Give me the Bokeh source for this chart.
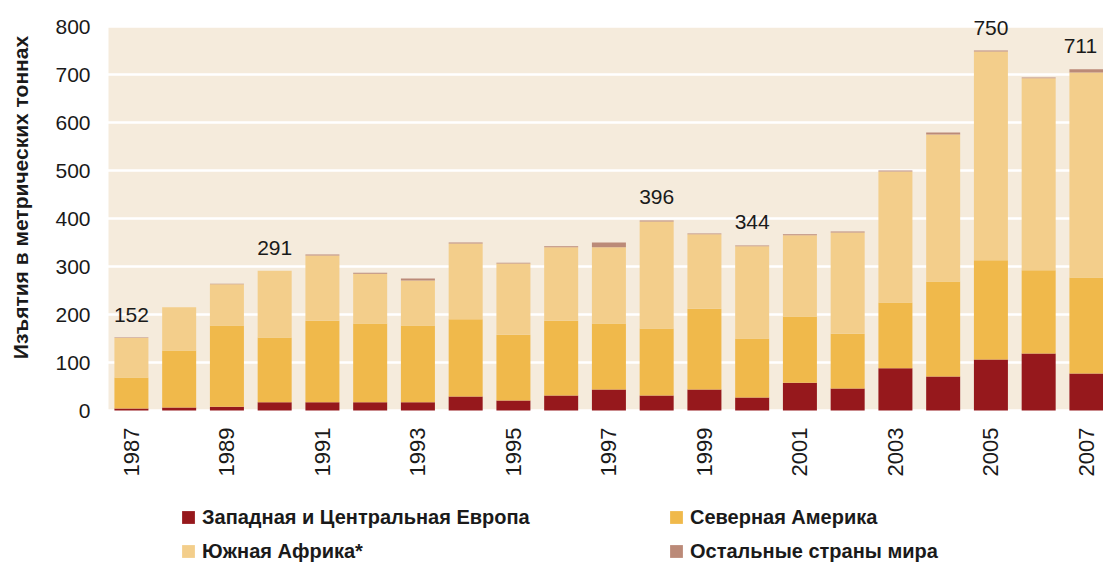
import math
from bokeh.plotting import figure
from bokeh.models import (ColumnDataSource, Range1d, FixedTicker, Legend, LegendItem,
                          LabelSet, Label, BoxAnnotation)
from bokeh.core.properties import value
from bokeh.embed import file_html
from bokeh.resources import INLINE

# ---------------- data ----------------
years = [1987, 1988, 1989, 1990, 1991, 1992, 1993, 1994, 1995, 1996, 1997,
         1998, 1999, 2000, 2001, 2002, 2003, 2004, 2005, 2006, 2007]
europe = [4, 6, 8, 17, 17, 17, 17, 29, 21, 31, 44, 31, 44, 27, 58, 46, 88, 71, 106, 119, 77]
namerica = [65, 119, 169, 135, 170, 164, 160, 161, 137, 156, 137, 140, 168, 123, 138, 114, 137, 198, 207, 173, 200]
safrica = [82, 90, 86, 139, 136, 104, 94, 158, 148, 153, 159, 223, 155, 192, 169, 211, 273, 306, 435, 400, 427]
rest = [1, 0, 1, 0, 2, 2, 4, 2, 2, 2, 10, 2, 2, 2, 2, 2, 2, 4, 2, 2, 7]

label_years = [1987, 1990, 1998, 2000, 2005, 2007]
label_values = [152, 291, 396, 344, 750, 711]

x_ticks = [1987, 1989, 1991, 1993, 1995, 1997, 1999, 2001, 2003, 2005, 2007]
x_tick_labels = ["1987", "1989", "1991", "1993", "1995", "1997", "1999", "2001", "2003", "2005", "2007"]
y_ticks = [0, 100, 200, 300, 400, 500, 600, 700, 800]
y_tick_labels = ["0", "100", "200", "300", "400", "500", "600", "700", "800"]
y_max = 800

series_keys = ["europe", "namerica", "safrica", "rest"]
series_names = ["Западная и Центральная Европа", "Северная Америка", "Южная Африка*", "Остальные страны мира"]
series_colors = ["#96181c", "#f0b94b", "#f3ce8b", "#bb8a78"]
y_title = "Изъятия в метрических тоннах"

# ---------------- layout constants (pixels) ----------------
W, H = 1103, 563
PLOT_LEFT_PX = 108        # left edge of the beige area
ZERO_PX = 410             # y pixel of value 0
PX_PER_YEAR = 47.75
PX_PER_UNIT = 0.48
X_LEFT = 1986.52          # data x at the beige area's left edge

x_start = X_LEFT - PLOT_LEFT_PX / PX_PER_YEAR
x_end = X_LEFT + (W - PLOT_LEFT_PX) / PX_PER_YEAR
y_start = -(H - ZERO_PX) / PX_PER_UNIT
y_end = ZERO_PX / PX_PER_UNIT

FONT = "Liberation Sans"
TXT = "#1a1a1a"
source = ColumnDataSource(dict(years=years, europe=europe, namerica=namerica,
                               safrica=safrica, rest=rest))

# the frame covers the whole canvas; axes are pinned inside it
p = figure(width=W, height=H, output_backend="svg", toolbar_location=None,
           x_range=Range1d(x_start, x_end), y_range=Range1d(y_start, y_end),
           min_border_left=0, min_border_right=0, min_border_top=0, min_border_bottom=0,
           background_fill_color="white", border_fill_color="white", outline_line_color=None)

# beige plotting area
p.add_layout(BoxAnnotation(left=X_LEFT, bottom=0, top=y_max, fill_color="#f5ebdc", fill_alpha=1,
                           line_color=None, level="image"))

renderers = p.vbar_stack(series_keys, x="years", width=0.712, source=source,
                         color=series_colors, line_color=None)

p.xgrid.visible = False
p.ygrid.ticker = FixedTicker(ticks=y_ticks)
p.ygrid.grid_line_color = "white"
p.ygrid.grid_line_width = 2.5

p.xaxis.fixed_location = 0
p.xaxis.ticker = FixedTicker(ticks=x_ticks)
p.xaxis.major_label_overrides = {t: l for t, l in zip(x_ticks, x_tick_labels)}
p.xaxis.major_label_orientation = math.pi / 2
p.xaxis.major_label_standoff = 17
p.xaxis.major_label_text_font_size = "22px"

p.yaxis.fixed_location = X_LEFT
p.yaxis.ticker = FixedTicker(ticks=y_ticks)
p.yaxis.major_label_overrides = {t: l for t, l in zip(y_ticks, y_tick_labels)}
p.yaxis.major_label_standoff = 18
p.yaxis.major_label_text_font_size = "21px"

for ax in (p.xaxis, p.yaxis):
    ax.axis_line_color = None
    ax.major_tick_line_color = None
    ax.minor_tick_line_color = None
    ax.major_tick_out = 0
    ax.major_tick_in = 0
    ax.minor_tick_out = 0
    ax.minor_tick_in = 0
    ax.major_label_text_font = FONT
    ax.major_label_text_color = TXT

# y-axis title
p.add_layout(Label(x=20, y=H - 197, x_units="screen", y_units="screen", text=y_title,
                   angle=math.pi / 2, text_align="center", text_baseline="middle",
                   text_font=FONT, text_font_size="21px", text_font_style="bold",
                   text_color=TXT))

# value labels above selected bars (the last one nudged left to stay inside the page)
lab_dx = [-6 if yr == years[-1] else 0 for yr in label_years]
lab_src = ColumnDataSource(dict(x=label_years, y=label_values,
                                t=[str(v) for v in label_values], dx=lab_dx))
labels = LabelSet(x="x", y="y", text="t", source=lab_src, x_offset="dx", y_offset=16,
                  text_align="center", text_baseline="alphabetic",
                  text_font=value(FONT), text_font_size="21px", text_color=TXT)
p.add_layout(labels)

legend = Legend(items=[LegendItem(label=n, renderers=[r]) for n, r in zip(series_names, renderers)],
                location=(180, 0), orientation="horizontal", ncols=2,
                glyph_width=16, glyph_height=16, label_standoff=6, spacing=10,
                label_width=456, label_height=24, padding=0, margin=0,
                border_line_color=None, background_fill_alpha=0,
                label_text_font=FONT, label_text_font_size="20px",
                label_text_font_style="bold", label_text_color=TXT)
p.add_layout(legend)

open("out.html", "w").write(file_html(p, INLINE))
